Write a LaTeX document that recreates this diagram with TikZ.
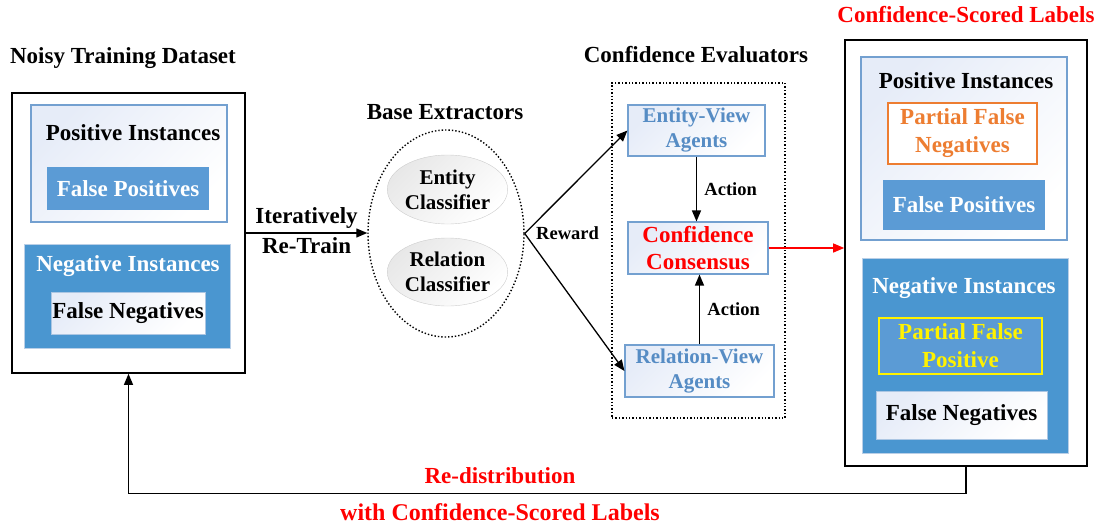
\documentclass[tikz,border=0pt]{standalone}
\usepackage{fontspec}
\setmainfont{Liberation Serif}
\usetikzlibrary{arrows.meta, positioning, shapes.geometric}
\definecolor{boxblue}{RGB}{91,155,213}
\definecolor{negblue}{RGB}{74,150,208}
\definecolor{paleedge}{RGB}{115,160,208}
\definecolor{paleshade}{RGB}{230,236,248}
\definecolor{agenttext}{RGB}{86,140,196}
\definecolor{partorange}{RGB}{237,125,49}
\definecolor{clsedge}{RGB}{205,205,205}

\begin{document}
\begin{tikzpicture}[x=1pt, y=-1pt,
  title/.style={font=\fontsize{23}{27}\selectfont\bfseries},
  lbl/.style={font=\fontsize{18.5}{21}\selectfont\bfseries},
  outer/.style={draw, line width=1.6pt, inner sep=0pt},
  palebox/.style={draw=paleedge, line width=1.1pt, left color=paleshade, right color=white,
              shading angle=45, inner sep=0pt, align=center},
  bluebox/.style={fill=boxblue, text=white, inner sep=0pt, align=center,
              font=\fontsize{23}{27}\selectfont\bfseries},
  whitebox/.style={draw=paleedge!60, left color=paleshade, right color=white, shading angle=45,
              inner sep=0pt, align=center, font=\fontsize{23}{27}\selectfont\bfseries},
  agent/.style={palebox, text=agenttext, font=\fontsize{21}{25}\selectfont\bfseries},
  cls/.style={ellipse, draw=clsedge, left color=black!9, right color=white, shading angle=45,
              inner sep=0pt, align=center, font=\fontsize{21}{25}\selectfont\bfseries},
  arrow/.style={-{Triangle[length=11pt, width=9pt]}, line width=1.3pt},
]
\useasboundingbox (0,0) rectangle (1102,524);

% Noisy training dataset
\node[title] (noisytitle) at (123,58) {Noisy Training Dataset};
\node[outer, minimum width=233pt, minimum height=280pt] (dataset) at (128.5,233) {};
\node[palebox, minimum width=196pt, minimum height=117pt] (posbox) at (129,163.5) {};
\node[title] (postitle) at (133,133) {Positive Instances};
\node[bluebox, minimum width=162pt, minimum height=43pt] (fp) at (128,188.5) {False Positives};
\node[fill=negblue, draw=paleedge!50, minimum width=206pt, minimum height=104pt] (negbox) at (127,296) {};
\node[title, text=white] (negtitle) at (128,266) {Negative Instances};
\node[whitebox, minimum width=154pt, minimum height=42pt] (fn) at (128,313) {False Negatives};

% Base extractors
\node[title] (basetitle) at (445,112) {Base Extractors};
\node[ellipse, draw, dotted, line width=1.4pt, minimum width=156pt, minimum height=207pt] (extractors) at (446,233.5) {};
\node[cls, minimum width=115pt, minimum height=69pt] (entitycls) at (447.5,189.5) {Entity\\Classifier};
\node[cls, minimum width=115pt, minimum height=68pt] (relationcls) at (447.5,272) {Relation\\Classifier};

% Confidence evaluators
\node[title] (evaltitle) at (696,55) {Confidence Evaluators};
\node[draw, dotted, line width=1.4pt, minimum width=173pt, minimum height=335pt] (evaluators) at (698.5,250.5) {};
\node[agent, minimum width=137pt, minimum height=51pt] (entityview) at (696.5,130.5) {Entity-View\\Agents};
\node[palebox, text=red, font=\fontsize{23}{27}\selectfont\bfseries, minimum width=140pt, minimum height=52pt] (consensus) at (698,248) {Confidence\\Consensus};
\node[agent, minimum width=149pt, minimum height=52pt] (relationview) at (699.5,371) {Relation-View\\Agents};

% Confidence-scored labels
\node[title, text=red] (scoredtitle) at (966,15) {Confidence-Scored Labels};
\node[outer, minimum width=242pt, minimum height=426pt] (scored) at (966,253) {};
\node[palebox, minimum width=206pt, minimum height=183pt] (posbox2) at (964,148.5) {};
\node[title] (postitle2) at (966,81) {Positive Instances};
\node[draw=partorange, line width=1.1pt, fill=white, text=partorange, align=center, inner sep=0pt,
      font=\fontsize{23}{28}\selectfont\bfseries, minimum width=149pt, minimum height=61pt] (pfn) at (962.5,133.5) {Partial False\\Negatives};
\node[bluebox, minimum width=162pt, minimum height=50pt] (fp2) at (964,205) {False Positives};
\node[fill=negblue, draw=paleedge!50, minimum width=206pt, minimum height=195pt] (negbox2) at (965,355.5) {};
\node[title, text=white] (negtitle2) at (964,288) {Negative Instances};
\node[fill=boxblue, draw=yellow, line width=1.1pt, text=yellow, align=center, inner sep=0pt,
      font=\fontsize{23}{28}\selectfont\bfseries, minimum width=163pt, minimum height=56pt] (pfp) at (960.5,346) {Partial False\\Positive};
\node[whitebox, minimum width=171pt, minimum height=48pt] (fn2) at (961.5,415) {False Negatives};

% Arrows
\draw[arrow] (dataset.east) -- node[title, above=1pt] {Iteratively} node[title, below=1pt] {Re-Train} (dataset.east -| extractors.west);
\draw[arrow] (extractors.east) -- (entityview.west);
\draw[arrow] (extractors.east) -- (relationview.west);
\node[lbl, right=8pt of extractors.east] (reward) {Reward};
\draw[arrow] (entityview.south) -- node[lbl, right=4pt] {Action} (entityview.south |- consensus.north);
\draw[arrow] (relationview.north) -- node[lbl, right=4pt] {Action} (relationview.north |- consensus.south);
\draw[arrow, red, line width=1.1pt] (consensus.east) -- (consensus.east -| scored.west);

% Feedback loop
\draw[arrow, line width=1.1pt] (scored.south) -- ++(0,27) -| (dataset.south);
\node[title, text=red] (redist) at (500,476) {Re-distribution};
\node[title, text=red, font=\fontsize{24}{28}\selectfont\bfseries] (redist2) at (500,512) {with Confidence-Scored Labels};

\end{tikzpicture}
\end{document}
